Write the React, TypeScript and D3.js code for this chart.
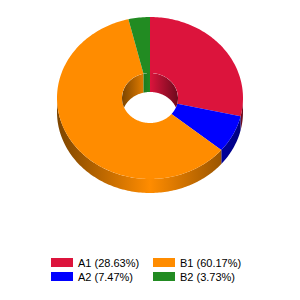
import React from "react";
import * as d3 from "d3";

const categories = ["A1", "A2", "B1", "B2"];
const values = [28.63, 7.47, 60.17, 3.73];
const colors = ["#DC143C", "#0000FF", "#FF8C00", "#228B22"];

const W = 300;
const H = 300;
const cx = 150;
const cy = 98;
const outerRx = 93;
const outerRy = 81;
const innerRx = 28;
const innerRy = 25;
const outerDepth = 14;
const innerDepth = 19;

// point on the tilted ellipse, angle clockwise from 12 o'clock
const pt = (rx: number, ry: number, a: number, dy = 0): [number, number] => [
  cx + rx * Math.sin(a),
  cy - ry * Math.cos(a) + dy,
];

const arcPts = (rx: number, ry: number, a0: number, a1: number, dy = 0) => {
  const n = Math.max(2, Math.ceil(Math.abs(a1 - a0) / 0.02));
  return d3.range(n + 1).map((i) => pt(rx, ry, a0 + ((a1 - a0) * i) / n, dy));
};

const line = d3.line().curve(d3.curveLinear);

const clipRange = (a0: number, a1: number, lo: number, hi: number) => {
  const s = Math.max(a0, lo);
  const e = Math.min(a1, hi);
  return s < e ? [s, e] : null;
};

const App = () => {
  const pie = d3.pie<number>().sort(null).value((d) => d)(values);

  const darkColor = (c: string) => d3.color(c)!.darker(2).formatHex();

  // outer side walls, front half only
  const outerSides = pie.flatMap((p, i) => {
    const r = clipRange(p.startAngle, p.endAngle, Math.PI / 2, (3 * Math.PI) / 2);
    if (!r) return [];
    const pts = [
      ...arcPts(outerRx, outerRy, r[0], r[1]),
      ...arcPts(outerRx, outerRy, r[1], r[0], outerDepth),
    ];
    return [{ i, d: line(pts as [number, number][]) + "Z" }];
  });

  // inner hole walls, back half only
  const innerSides = pie.flatMap((p, i) => {
    const ranges = [
      clipRange(p.startAngle, p.endAngle, 0, Math.PI / 2),
      clipRange(p.startAngle, p.endAngle, (3 * Math.PI) / 2, 2 * Math.PI),
    ].filter(Boolean) as number[][];
    return ranges.map((r) => {
      const pts = [
        ...arcPts(innerRx, innerRy, r[0], r[1]),
        ...arcPts(innerRx, innerRy, r[1], r[0], innerDepth),
      ];
      return { i, d: line(pts as [number, number][]) + "Z" };
    });
  });

  const tops = pie.map((p, i) => {
    const pts = [
      ...arcPts(outerRx, outerRy, p.startAngle, p.endAngle),
      ...arcPts(innerRx, innerRy, p.endAngle, p.startAngle),
    ];
    return { i, d: line(pts as [number, number][]) + "Z" };
  });

  const holePath = line(arcPts(innerRx, innerRy, 0, 2 * Math.PI) as [number, number][]) + "Z";

  const legendX = d3.scaleOrdinal<number, number>().domain([0, 1]).range([51, 153]);
  const legendY = d3.scaleOrdinal<number, number>().domain([0, 1]).range([258, 272]);

  return (
    <div style={{ position: "absolute", left: 0, top: 0, width: W, height: H }}>
      <svg width={W} height={H} style={{ display: "block", background: "#fff" }}>
        <defs>
          {colors.map((c, i) => (
            <linearGradient
              key={"og" + i}
              id={"og" + i}
              gradientUnits="userSpaceOnUse"
              x1={cx - outerRx}
              x2={cx + outerRx}
              y1={0}
              y2={0}
            >
              <stop offset="0" stopColor={darkColor(c)} />
              <stop offset="0.5" stopColor={c} />
              <stop offset="1" stopColor={darkColor(c)} />
            </linearGradient>
          ))}
          {colors.map((c, i) => (
            <linearGradient
              key={"ig" + i}
              id={"ig" + i}
              gradientUnits="userSpaceOnUse"
              x1={cx - innerRx}
              x2={cx + innerRx}
              y1={0}
              y2={0}
            >
              <stop offset="0" stopColor={darkColor(c)} />
              <stop offset="0.5" stopColor={c} />
              <stop offset="1" stopColor={darkColor(c)} />
            </linearGradient>
          ))}
          <clipPath id="hole">
            <path d={holePath} />
          </clipPath>
        </defs>

        {outerSides.map((s, k) => (
          <path key={"os" + k} d={s.d} fill={`url(#og${s.i})`} />
        ))}

        {tops.map((t) => (
          <path key={"t" + t.i} d={t.d} fill={colors[t.i]} />
        ))}

        <g clipPath="url(#hole)">
          {innerSides.map((s, k) => (
            <path key={"is" + k} d={s.d} fill={`url(#ig${s.i})`} />
          ))}
        </g>

        <g fontFamily="'Liberation Sans', Arial, sans-serif" fontSize={11} fill="#000">
          {categories.map((c, i) => {
            const col = Math.floor(i / 2);
            const row = i % 2;
            const x = legendX(col);
            const y = legendY(row);
            return (
              <g key={c}>
                <rect x={x} y={y} width={22} height={9} fill={colors[i]} />
                <text x={x + 27} y={y + 9}>
                  {`${c} (${values[i].toFixed(2)}%)`}
                </text>
              </g>
            );
          })}
        </g>
      </svg>
    </div>
  );
};

export default App;
